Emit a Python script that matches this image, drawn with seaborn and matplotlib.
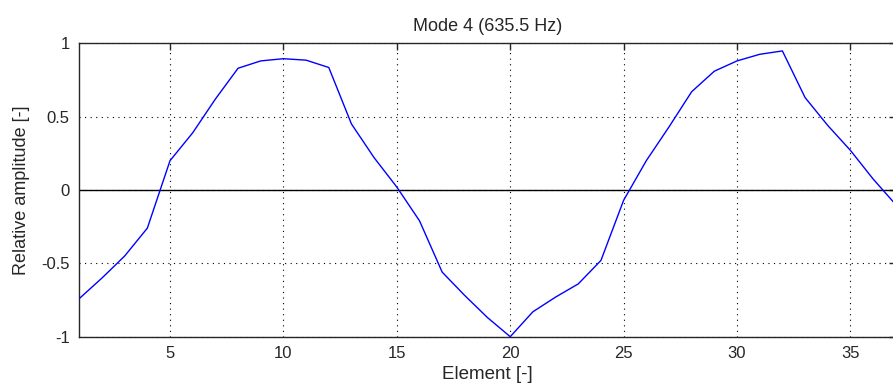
import matplotlib
matplotlib.use("Agg")
import matplotlib.pyplot as plt
import seaborn as sns
import pandas as pd
from matplotlib import font_manager

elements = list(range(1, 38))
amplitude = [-0.74, -0.60, -0.45, -0.26, 0.20, 0.39, 0.62, 0.83, 0.88, 0.895,
             0.885, 0.835, 0.45, 0.22, 0.02, -0.21, -0.56, -0.72, -0.87, -1.00,
             -0.83, -0.73, -0.64, -0.48, -0.07, 0.20, 0.43, 0.67, 0.81, 0.88,
             0.925, 0.948, 0.63, 0.44, 0.27, 0.075, -0.10]
x_ticks = [5, 10, 15, 20, 25, 30, 35]
y_ticks = [-1, -0.5, 0, 0.5, 1]
y_tick_labels = ["-1", "-0.5", "0", "0.5", "1"]
title = "Mode 4 (635.5 Hz)"

df = pd.DataFrame({"Element": elements, "Amplitude": amplitude})

sns.set_style("white")
plt.rcParams['font.family'] = ['Liberation Sans', 'DejaVu Sans']

names = {f.name for f in font_manager.fontManager.ttflist}
tick_family = ['Liberation Sans Narrow', 'Liberation Sans'] if 'Liberation Sans Narrow' in names else ['Liberation Sans']
tick_size = 14 if 'Liberation Sans Narrow' in names else 12

fig = plt.figure(figsize=(8.93, 3.91), dpi=100)
W, H = 893, 391
left, right, top, bottom = 79.3, 895.8, 43.3, 336.7
ax = fig.add_axes([left / W, (H - bottom) / H, (right - left) / W, (bottom - top) / H])

ax.axhline(0, color="black", linewidth=1.0, zorder=1)
sns.lineplot(data=df, x="Element", y="Amplitude", ax=ax, color="#0000ff",
             linewidth=1.0, zorder=3)

ax.set_xlim(1, 37)
ax.set_ylim(-1, 1)
ax.set_xticks(x_ticks)
ax.set_xticklabels([str(t) for t in x_ticks], fontsize=tick_size, family=tick_family)
ax.set_yticks(y_ticks)
ax.set_yticklabels(y_tick_labels, fontsize=tick_size, family=tick_family)
ax.grid(True, linestyle=(0, (1, 4)), color="black", linewidth=0.8)
ax.tick_params(direction="in", length=5, width=1, top=True, right=True,
               colors="#262626", pad=6)
ax.tick_params(axis="y", pad=7)
ax.tick_params(axis="x", pad=7)
for s in ax.spines.values():
    s.set_color("#262626")
    s.set_linewidth(1.0)
ax.set_xlabel("Element [-]", fontsize=13.5, labelpad=3, color="#262626")
ax.set_ylabel("Relative amplitude [-]", fontsize=13, labelpad=8, color="#262626")
ax.set_title(title, fontsize=13, pad=9, color="#262626")

fig.savefig("out.png", dpi=100)
